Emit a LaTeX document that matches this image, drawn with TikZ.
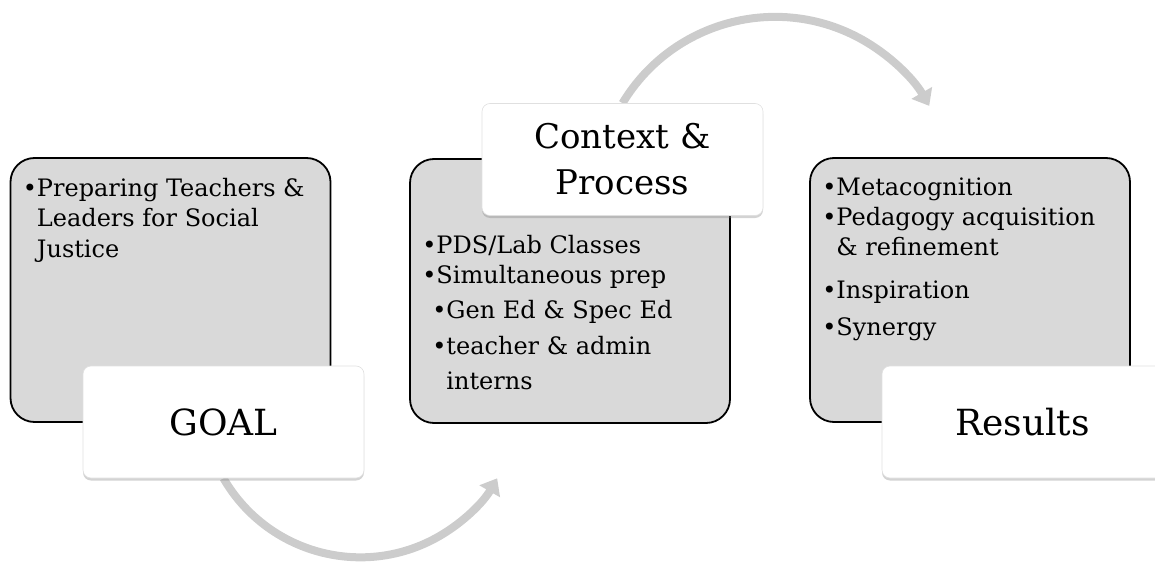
\documentclass[tikz,border=0pt]{standalone}
\usepackage{fontspec}
\setmainfont{DejaVu Serif}
\usetikzlibrary{arrows.meta,shadows,backgrounds}

\begin{document}
\begin{tikzpicture}[x=1pt,y=1pt,
  panel/.style={draw=black, line width=1.8pt, fill=black!15, rounded corners=24pt,
    minimum width=320pt, minimum height=264pt, inner sep=0pt},
  tag/.style={draw=black!12, line width=0.6pt, fill=white, rounded corners=8pt,
    minimum width=281pt, minimum height=112pt, inner sep=0pt, align=center,
    drop shadow={shadow xshift=0pt, shadow yshift=-2.5pt, opacity=0.35}},
  items/.style={anchor=north west, inner sep=0pt, align=left,
    font=\fontsize{24}{30}\selectfont},
  flow/.style={draw=black!20, line width=8pt, -{Triangle[width=23pt,length=15pt]}}]
\useasboundingbox (0,0) rectangle (1155,566);

% grey panels
\node[panel] (goalbox) at (170.5,276) {};
\node[panel] (ctxbox) at (570,275) {};
\node[panel] (resbox) at (970,276) {};

% bullet lists
\node[items] (goaltxt) at ([xshift=13pt,yshift=-21pt]goalbox.north west)
  {•Preparing Teachers \&\\\hphantom{•}Leaders for Social\\[1pt]\hphantom{•}Justice};
\node[items] (ctxtxt) at ([xshift=13pt,yshift=-77pt]ctxbox.north west)
  {•PDS/Lab Classes\\•Simultaneous prep\\[5pt]\hspace*{10pt}•Gen Ed \& Spec Ed\\[6pt]%
   \hspace*{10pt}•teacher \& admin\\[5pt]\hspace*{10pt}\hphantom{•}interns};
\node[items] (restxt) at ([xshift=13pt,yshift=-21pt]resbox.north west)
  {•Metacognition\\•Pedagogy acquisition\\\hphantom{•}\& refinement\\[13pt]%
   •Inspiration\\[7pt]•Synergy};

% white tags
\node[tag, font=\fontsize{36}{44}\selectfont] (goal) at (223.5,144) {GOAL};
\node[tag, font=\fontsize{34}{46}\selectfont] (ctx) at (622.5,406.5) {Context \&\\Process};
\node[tag, font=\fontsize{36}{44}\selectfont] (res) at (1022.5,144) {Results};

% curved arrows
\begin{scope}[on background layer]
\draw[flow] (goal.south) arc[start angle=210, end angle=330, radius=158];
\draw[flow] (ctx.north) arc[start angle=149, end angle=30, radius=178];
\end{scope}
\end{tikzpicture}
\end{document}
